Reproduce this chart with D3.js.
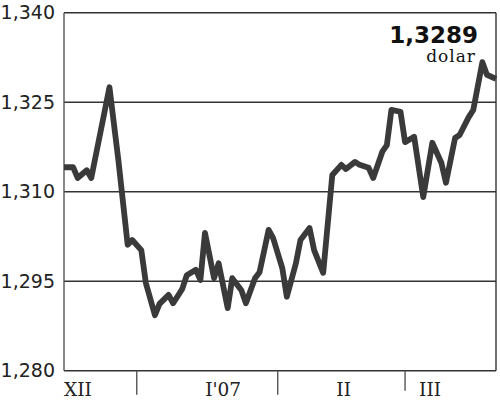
<!DOCTYPE html>
<html>
<head>
<meta charset="utf-8">
<script src="https://cdn.jsdelivr.net/npm/d3@7"></script>
<style>
	body { margin: 0; background: #fff; }
	svg { display: block; }
</style>
</head>
<body>
<div id="chart"></div>
<script>

// daily EUR/USD rate, Dec 2006 - Mar 2007
const dates = [
	'2006-12-16', '2006-12-18', '2006-12-19', '2006-12-21', '2006-12-22', '2006-12-26',
	'2006-12-28', '2006-12-30', '2006-12-31', '2007-01-02', '2007-01-03', '2007-01-05',
	'2007-01-06', '2007-01-08', '2007-01-09', '2007-01-11', '2007-01-12', '2007-01-14',
	'2007-01-15', '2007-01-16', '2007-01-18', '2007-01-19', '2007-01-21', '2007-01-22',
	'2007-01-24', '2007-01-25', '2007-01-27', '2007-01-28', '2007-01-30', '2007-01-31',
	'2007-02-02', '2007-02-03', '2007-02-05', '2007-02-06', '2007-02-08', '2007-02-09',
	'2007-02-11', '2007-02-13', '2007-02-15', '2007-02-16', '2007-02-18', '2007-02-19',
	'2007-02-21', '2007-02-22', '2007-02-24', '2007-02-25', '2007-02-26', '2007-02-28',
	'2007-03-01', '2007-03-03', '2007-03-05', '2007-03-07', '2007-03-09', '2007-03-10',
	'2007-03-12', '2007-03-13', '2007-03-15', '2007-03-16', '2007-03-18', '2007-03-19',
	'2007-03-21'
];

const rates = [
	1.3141, 1.3141, 1.3123, 1.3136, 1.3123, 1.3275,
	1.3150, 1.3011, 1.3019, 1.3002, 1.2947, 1.2893,
	1.2912, 1.2927, 1.2913, 1.2937, 1.2960, 1.2969,
	1.2952, 1.3031, 1.2955, 1.2980, 1.2905, 1.2955,
	1.2935, 1.2913, 1.2955, 1.2965, 1.3036, 1.3022,
	1.2972, 1.2924, 1.2980, 1.3019, 1.3039, 1.3002,
	1.2964, 1.3128, 1.3145, 1.3138, 1.3150, 1.3145,
	1.3140, 1.3123, 1.3167, 1.3178, 1.3237, 1.3234,
	1.3183, 1.3192, 1.3091, 1.3182, 1.3148, 1.3115,
	1.3190, 1.3195, 1.3225, 1.3237, 1.3317, 1.3296,
	1.3289
];

const yTicks = [1.280, 1.295, 1.310, 1.325, 1.340];
const monthStarts = ['2007-01-01', '2007-02-01', '2007-03-01'];
const monthLabels = ['XII', 'I\'07', 'II', 'III'];
const monthLabelDates = ['2006-12-16', '2007-01-20', '2007-02-15T12:00', '2007-03-06T12:00'];
const lastValue = '1,3289';
const unit = 'dolar';

const parse = d3.isoParse;
const data = dates.map((d, i) => ({ date: parse(d), value: rates[i] }));

const width = 500, height = 402;
const plotLeft = 64, plotRight = 496, plotTop = 12.7, plotBottom = 370.7;

const svg = d3.select('#chart')
	.append('svg')
		.attr('width', width)
		.attr('height', height);

const x = d3.scaleTime()
	.domain([parse('2006-12-16'), parse('2007-03-21')])
	.range([plotLeft, plotRight]);

const y = d3.scaleLinear()
	.domain([1.28, 1.34])
	.range([plotBottom, plotTop]);

const pl = d3.formatLocale({ decimal: ',', thousands: ' ', grouping: [3], currency: ['', ''] });
const fmt = pl.format('.3f');

// gridlines
svg.append('g')
	.selectAll('line')
	.data(yTicks).enter()
	.append('line')
		.attr('x1', plotLeft)
		.attr('x2', plotRight)
		.attr('y1', d => y(d))
		.attr('y2', d => y(d))
		.attr('stroke', '#333')
		.attr('stroke-width', 1.4);

// frame sides
svg.append('line')
	.attr('x1', plotLeft).attr('x2', plotLeft)
	.attr('y1', plotTop).attr('y2', plotBottom)
	.attr('stroke', '#555').attr('stroke-width', 1.4);
svg.append('line')
	.attr('x1', plotRight).attr('x2', plotRight)
	.attr('y1', plotTop).attr('y2', plotBottom)
	.attr('stroke', '#333').attr('stroke-width', 1.4);

// y axis labels
const yAxis = d3.axisLeft(y)
	.tickValues(yTicks)
	.tickFormat(fmt)
	.tickSize(0)
	.tickPadding(9);

svg.append('g')
	.attr('transform', `translate(${plotLeft}, 0)`)
	.call(yAxis)
	.call(g => g.select('.domain').remove())
	.selectAll('text')
		.attr('font-family', 'DejaVu Sans')
		.attr('font-size', 19)
		.attr('fill', '#222');

// month separators
svg.append('g')
	.selectAll('line')
	.data(monthStarts).enter()
	.append('line')
		.attr('x1', d => x(parse(d)))
		.attr('x2', d => x(parse(d)))
		.attr('y1', plotBottom)
		.attr('y2', (d, i) => i === 2 ? plotBottom + 20 : plotBottom + 24)
		.attr('stroke', '#555')
		.attr('stroke-width', 1.4);

// month labels
svg.append('g')
	.selectAll('text')
	.data(monthLabels).enter()
	.append('text')
		.attr('x', (d, i) => x(parse(monthLabelDates[i])))
		.attr('y', 396)
		.attr('text-anchor', (d, i) => i === 0 ? 'start' : 'middle')
		.attr('font-family', 'DejaVu Serif')
		.attr('font-size', 18.5)
		.attr('fill', '#222')
		.text(d => d);

// rate line
const line = d3.line()
	.x(d => x(d.date))
	.y(d => y(d.value));

svg.append('path')
	.datum(data)
	.attr('d', line)
	.attr('fill', 'none')
	.attr('stroke', '#3a3a3a')
	.attr('stroke-width', 5.8)
	.attr('stroke-linejoin', 'round');

// last value
svg.append('text')
	.attr('x', 478)
	.attr('y', 43)
	.attr('text-anchor', 'end')
	.attr('font-family', 'DejaVu Sans')
	.attr('font-weight', 'bold')
	.attr('font-size', 23)
	.attr('fill', '#111')
	.text(lastValue);

svg.append('text')
	.attr('x', 476)
	.attr('y', 62)
	.attr('text-anchor', 'end')
	.attr('font-family', 'DejaVu Serif')
	.attr('font-size', 17)
	.attr('letter-spacing', 1)
	.attr('fill', '#111')
	.text(unit);

</script>
</body>
</html>
